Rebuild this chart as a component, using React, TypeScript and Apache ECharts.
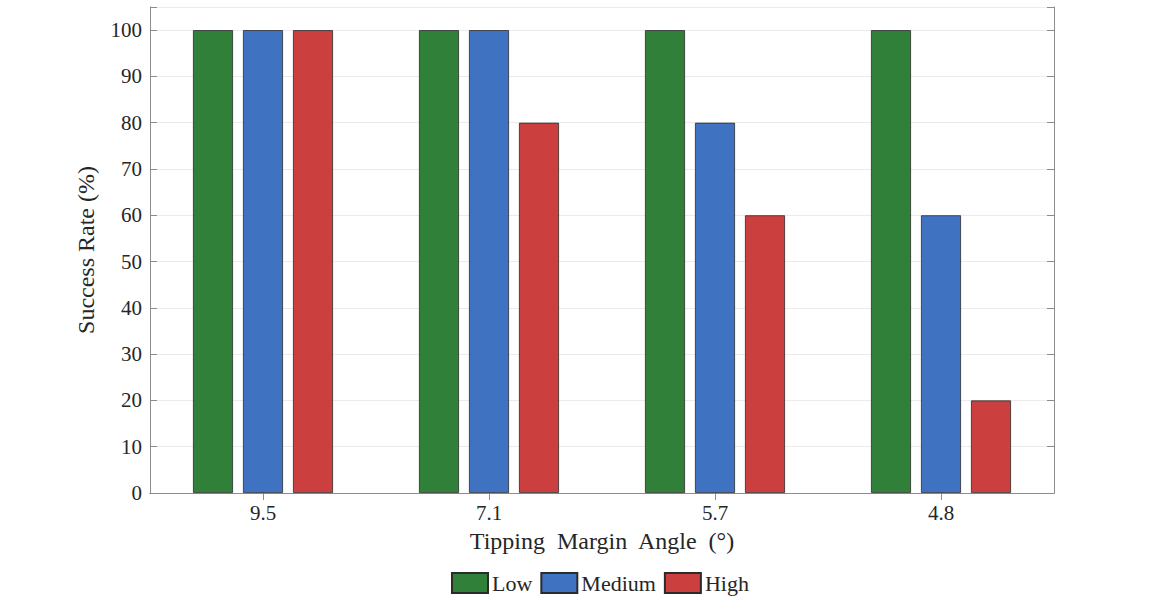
import React, { useEffect, useRef } from "react";
import * as echarts from "echarts";

const categories = ["9.5", "7.1", "5.7", "4.8"];
const lowValues = [100, 100, 100, 100];
const mediumValues = [100, 100, 80, 60];
const highValues = [100, 80, 60, 20];
const seriesNames = ["Low", "Medium", "High"];
const colors = ["#31803a", "#4072c2", "#cc3f3f"];

export default function App() {
  const ref = useRef<HTMLDivElement>(null);
  useEffect(() => {
    const chart = echarts.init(ref.current!, null, { renderer: "svg" });
    const font = "Liberation Serif";
    const axisLine = { show: true, lineStyle: { color: "#8c8c8c", width: 1 } };
    const tick = { show: true, inside: true, length: 7, lineStyle: { color: "#8c8c8c" } };
    const datas = [lowValues, mediumValues, highValues];
    chart.setOption({
      animation: false,
      textStyle: { fontFamily: font },
      grid: { left: 150, right: 110, top: 7, bottom: 114 },
      legend: {
        top: 572,
        left: 451,
        padding: 0,
        itemWidth: 36,
        itemHeight: 20,
        itemGap: 8,
        icon: "rect",
        textStyle: { fontFamily: font, fontSize: 22, color: "#262626", padding: [0, 0, 0, -1] },
        data: seriesNames,
      },
      xAxis: [
        {
          type: "category",
          data: categories,
          name: "Tipping  Margin  Angle  (°)",
          nameLocation: "middle",
          nameGap: 36,
          nameTextStyle: { fontFamily: font, fontSize: 24, color: "#262626" },
          axisLine,
          axisTick: { ...tick, alignWithLabel: true },
          axisLabel: { fontFamily: font, fontSize: 21, color: "#262626", margin: 9 },
          splitLine: { show: false },
        },
        {
          type: "category",
          data: categories,
          position: "top",
          axisLine,
          axisTick: { ...tick, alignWithLabel: true },
          axisLabel: { show: false },
        },
      ],
      yAxis: [
        {
          type: "value",
          min: 0,
          max: 105,
          interval: 10,
          name: "Success Rate (%)",
          nameLocation: "middle",
          nameGap: 52,
          nameTextStyle: { fontFamily: font, fontSize: 24, color: "#262626" },
          axisLine,
          axisTick: tick,
          axisLabel: {
            fontFamily: font,
            fontSize: 21,
            color: "#262626",
            margin: 8,
            formatter: (v: number) => (v % 10 === 0 && v <= 100 ? String(v) : ""),
          },
          splitLine: { show: true, lineStyle: { color: "#ebebeb", width: 1 } },
        },
        {
          type: "value",
          min: 0,
          max: 105,
          interval: 10,
          position: "right",
          axisLine,
          axisTick: tick,
          axisLabel: { show: false },
          splitLine: { show: false },
        },
      ],
      series: datas.map((d, i) => ({
        name: seriesNames[i],
        type: "bar",
        data: d,
        barWidth: 40,
        barGap: "25%",
        itemStyle: { color: colors[i], borderColor: "#2b2b2b", borderWidth: 0.8 },
      })),
    });
    return () => chart.dispose();
  }, []);
  return (
    <div
      ref={ref}
      style={{ position: "fixed", left: 0, top: 0, width: 1164, height: 607, background: "#fff" }}
    />
  );
}
